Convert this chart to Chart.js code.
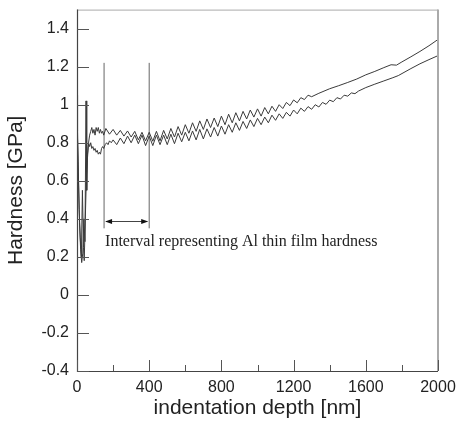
<!DOCTYPE html>
<html>
<head>
<meta charset="utf-8">
<script src="https://cdn.jsdelivr.net/npm/chart.js@4.4.0/dist/chart.umd.min.js"></script>
<style>
  html, body { margin: 0; padding: 0; background: #fff; }
  canvas { display: block; }
</style>
</head>
<body>
<canvas id="hardness-chart" width="459" height="421"></canvas>
<script>
// 上側の曲線（深さ nm / 硬さ GPa）
const depthA = [0, 3, 8, 14, 20, 26, 32, 38, 44, 50, 54, 58, 64, 70, 76, 82, 88, 94, 100, 106, 112, 118, 124, 130, 136, 142, 148,
  160, 180, 200, 220, 240, 260, 280, 300, 320, 340, 360, 380, 400, 420, 440, 460, 480, 500, 520, 540, 560, 580, 600, 620,
  640, 660, 680, 700, 720, 740, 760, 780, 800, 820, 840, 860, 880, 900, 920, 940, 960, 980, 1000, 1020, 1040, 1060, 1080,
  1100, 1120, 1140, 1160, 1180, 1200, 1220, 1240, 1260, 1280, 1300,
  1340, 1400, 1450, 1500, 1550, 1600, 1650, 1700, 1740, 1770, 1800, 1850, 1900, 1950, 2000];
const hardA = [1.05, 0.86, 0.62, 0.38, 0.24, 0.17, 0.22, 0.40, 0.28, 1.02, 0.55, 0.72, 0.80, 0.84, 0.86, 0.88, 0.85, 0.87, 0.84, 0.88, 0.86, 0.88, 0.85, 0.87, 0.85, 0.86, 0.84,
  0.875, 0.845, 0.87, 0.84, 0.865, 0.835, 0.862, 0.83, 0.86, 0.815, 0.855, 0.81, 0.855, 0.808, 0.86, 0.81, 0.865, 0.82, 0.875, 0.83, 0.885, 0.84, 0.895, 0.85,
  0.905, 0.86, 0.915, 0.87, 0.925, 0.88, 0.93, 0.885, 0.94, 0.895, 0.95, 0.905, 0.958, 0.915, 0.965, 0.925, 0.972, 0.935, 0.978, 0.94, 0.985, 0.952, 0.992,
  0.965, 1.0, 0.98, 1.012, 0.995, 1.025, 1.01, 1.037, 1.027, 1.05, 1.042,
  1.06, 1.084, 1.1, 1.117, 1.135, 1.157, 1.175, 1.195, 1.21, 1.208, 1.225, 1.252, 1.28, 1.31, 1.343];

// 下側の曲線
const depthB = [0, 2, 6, 12, 18, 24, 30, 36, 40, 46, 52, 58, 64, 70, 76, 82, 88, 94, 100, 106, 112, 118, 124, 130, 136, 142, 148, 156, 164, 172, 180, 190,
  200, 220, 240, 260, 280, 300, 320, 340, 360, 380, 400, 420, 440, 460, 480, 500, 520, 540, 560, 580, 600, 620, 640, 660,
  680, 700, 720, 740, 760, 780, 800, 820, 840, 860, 880, 900, 920, 940, 960, 980, 1000, 1020, 1040, 1060, 1080, 1100,
  1120, 1140, 1160, 1180, 1200, 1220, 1240, 1260, 1280, 1300, 1320, 1340, 1360, 1380, 1400, 1420, 1440, 1460, 1480, 1500,
  1520, 1540, 1560, 1600, 1650, 1700, 1750, 1780, 1850, 1900, 1950, 2000];
const hardB = [-0.1, 0.85, 0.7, 0.45, 0.3, 0.2, 0.55, 0.25, 0.18, 0.4, 0.62, 0.74, 0.8, 0.78, 0.8, 0.77, 0.78, 0.76, 0.77, 0.75, 0.76, 0.74, 0.75, 0.74, 0.77, 0.78, 0.77, 0.79, 0.8, 0.79, 0.81, 0.8,
  0.815, 0.79, 0.825, 0.795, 0.835, 0.80, 0.84, 0.795, 0.84, 0.785, 0.835, 0.785, 0.84, 0.79, 0.84, 0.79, 0.845, 0.795, 0.85, 0.805, 0.855, 0.81, 0.862, 0.815,
  0.87, 0.82, 0.873, 0.83, 0.88, 0.835, 0.888, 0.845, 0.895, 0.855, 0.905, 0.865, 0.912, 0.875, 0.92, 0.885, 0.928, 0.895, 0.935, 0.905, 0.945, 0.918,
  0.952, 0.928, 0.96, 0.94, 0.972, 0.952, 0.982, 0.965, 0.99, 0.976, 1.0, 0.988, 1.012, 1.002, 1.024, 1.016, 1.037, 1.03, 1.05, 1.045,
  1.062, 1.058, 1.072, 1.09, 1.108, 1.125, 1.142, 1.153, 1.19, 1.215, 1.237, 1.258];

// 注釈（Al薄膜の硬さ区間）
const intervalDepth = [150, 400];
const intervalLineHardness = [0.35, 1.22];
const arrowHardness = 0.39;
const noteHardness = 0.28;
const noteText = 'Interval representing Al thin film hardness';

// 軸
const xRange = [0, 2000];
const yRange = [-0.4, 1.5];
const xMajorTicks = [0, 400, 800, 1200, 1600, 2000];
const xMinorTicks = [200, 600, 1000, 1400, 1800];
const yTicks = [-0.4, -0.2, 0, 0.2, 0.4, 0.6, 0.8, 1, 1.2, 1.4];

const toPoints = (xs, ys) => xs.map((v, i) => ({ x: v, y: ys[i] }));

const frameAndNotes = {
  id: 'frameAndNotes',
  afterDatasetsDraw(chart) {
    const { ctx, chartArea: a, scales: { x, y } } = chart;
    ctx.save();
    // 枠
    ctx.strokeStyle = '#aaa';
    ctx.lineWidth = 1;
    ctx.beginPath();
    ctx.moveTo(a.left, a.top + 0.5);
    ctx.lineTo(a.right, a.top + 0.5);
    ctx.stroke();
    ctx.lineWidth = 2;
    ctx.beginPath();
    ctx.moveTo(a.right, a.top);
    ctx.lineTo(a.right, a.bottom);
    ctx.stroke();
    ctx.strokeStyle = '#444';
    ctx.lineWidth = 1.2;
    ctx.beginPath();
    ctx.moveTo(a.left + 0.5, a.top);
    ctx.lineTo(a.left + 0.5, a.bottom + 0.5);
    ctx.lineTo(a.right, a.bottom + 0.5);
    ctx.stroke();
    // 内向きの目盛り
    ctx.lineWidth = 1;
    ctx.strokeStyle = '#555';
    ctx.beginPath();
    xMajorTicks.forEach(v => {
      const px = Math.round(x.getPixelForValue(v)) + 0.5;
      ctx.moveTo(px, a.bottom);
      ctx.lineTo(px, a.bottom - 11);
    });
    xMinorTicks.forEach(v => {
      const px = Math.round(x.getPixelForValue(v)) + 0.5;
      ctx.moveTo(px, a.bottom);
      ctx.lineTo(px, a.bottom - 6);
    });
    yTicks.forEach(v => {
      const py = Math.round(y.getPixelForValue(v)) + 0.5;
      ctx.moveTo(a.left, py);
      ctx.lineTo(a.left + 12, py);
    });
    ctx.stroke();
    // 区間の矢印
    const x1 = x.getPixelForValue(intervalDepth[0]);
    const x2 = x.getPixelForValue(intervalDepth[1]);
    const ay = Math.round(y.getPixelForValue(arrowHardness)) + 0.5;
    ctx.strokeStyle = '#444';
    ctx.beginPath();
    ctx.moveTo(x1 + 2, ay);
    ctx.lineTo(x2 - 2, ay);
    ctx.stroke();
    ctx.fillStyle = '#111';
    ctx.beginPath();
    ctx.moveTo(x1 + 1, ay);
    ctx.lineTo(x1 + 8, ay - 2.5);
    ctx.lineTo(x1 + 8, ay + 2.5);
    ctx.closePath();
    ctx.moveTo(x2 - 1, ay);
    ctx.lineTo(x2 - 8, ay - 2.5);
    ctx.lineTo(x2 - 8, ay + 2.5);
    ctx.closePath();
    ctx.fill();
    // 注記
    ctx.fillStyle = '#222';
    ctx.font = '16px "Liberation Serif", "DejaVu Serif", serif';
    ctx.textBaseline = 'middle';
    ctx.textAlign = 'left';
    ctx.fillText(noteText, x1 + 1, y.getPixelForValue(noteHardness));
    ctx.restore();
  }
};

const lineStyle = {
  borderColor: '#3a3a3a',
  borderWidth: 1,
  pointRadius: 0,
  tension: 0,
  fill: false
};

new Chart(document.getElementById('hardness-chart'), {
  type: 'scatter',
  data: {
    datasets: [
      { label: 'upper', data: toPoints(depthA, hardA), showLine: true, ...lineStyle },
      { label: 'lower', data: toPoints(depthB, hardB), showLine: true, ...lineStyle },
      { label: 'start', data: toPoints([intervalDepth[0], intervalDepth[0]], intervalLineHardness), showLine: true, ...lineStyle, borderColor: '#666' },
      { label: 'end', data: toPoints([intervalDepth[1], intervalDepth[1]], intervalLineHardness), showLine: true, ...lineStyle, borderColor: '#666' }
    ]
  },
  options: {
    responsive: false,
    animation: false,
    layout: { padding: { top: 2, right: 21, left: 0, bottom: 0 } },
    plugins: { legend: { display: false }, tooltip: { enabled: false } },
    scales: {
      x: {
        type: 'linear',
        min: xRange[0],
        max: xRange[1],
        afterFit: scale => { scale.height = 50; },
        afterBuildTicks: scale => { scale.ticks = xMajorTicks.map(v => ({ value: v })); },
        grid: { display: false },
        border: { display: false },
        ticks: {
          padding: -1,
          color: '#222',
          maxRotation: 0,
          font: { family: '"Liberation Sans", Arial, sans-serif', size: 16 },
          callback: v => String(v)
        },
        title: {
          display: true,
          text: 'indentation depth [nm]',
          color: '#222',
          font: { family: '"Liberation Sans", Arial, sans-serif', size: 21 },
          padding: { top: 0, bottom: 0 }
        }
      },
      y: {
        type: 'linear',
        min: yRange[0],
        max: yRange[1],
        afterFit: scale => { scale.width = 77; },
        afterBuildTicks: scale => { scale.ticks = yTicks.map(v => ({ value: v })); },
        grid: { display: false },
        border: { display: false },
        ticks: {
          padding: 0,
          color: '#222',
          font: { family: '"Liberation Sans", Arial, sans-serif', size: 16 },
          callback: v => String(Math.round(v * 10) / 10)
        },
        title: {
          display: true,
          text: 'Hardness [GPa]',
          color: '#222',
          font: { family: '"Liberation Sans", Arial, sans-serif', size: 21 },
          padding: { top: 4, bottom: 0 }
        }
      }
    }
  },
  plugins: [frameAndNotes]
});
</script>
</body>
</html>
